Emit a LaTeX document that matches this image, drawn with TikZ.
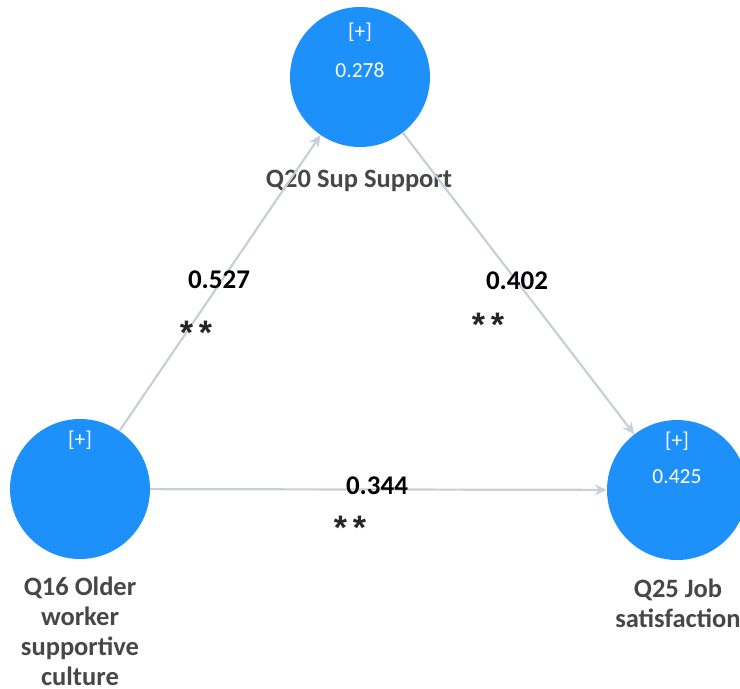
\documentclass[tikz,border=0pt]{standalone}
\usepackage{fontspec}
\setmainfont{Carlito}
\newfontfamily\starfont{Liberation Sans}
\usetikzlibrary{arrows.meta}
\definecolor{circblue}{HTML}{1E90FA}
\definecolor{linegray}{HTML}{C9CED8}
\definecolor{labgray}{HTML}{474747}
\tikzset{
  lv/.style={circle,fill=circblue,minimum size=140pt,inner sep=0pt},
  inner/.style={text=white,font=\fontsize{21.5}{24}\selectfont},
  lab/.style={text=labgray,font=\bfseries\fontsize{26.5}{30}\selectfont,align=center,inner sep=0pt},
  coef/.style={text=black,font=\bfseries\fontsize{27}{30}\selectfont},
  stars/.style={text=black!85,font=\starfont\bfseries\fontsize{34}{40}\selectfont},
  path/.style={draw=linegray,line width=2.2pt,-{Stealth[length=12pt,width=11pt]}}
}
\newcommand{\twostars}{*\hspace{6pt}*}
\begin{document}
\begin{tikzpicture}[x=1pt,y=-1pt]
\useasboundingbox (0,0) rectangle (740,689);
\node[lv] (sup) at (360,77) {};
\node[lv] (old) at (80,489) {};
\node[lv] (job) at (677,490) {};
\node[inner] (supp) at (360,32) {[+]};
\node[inner] (supv) at (360,70) {0.278};
\node[inner] (oldp) at (80,440) {[+]};
\node[inner] (jobp) at (677,441) {[+]};
\node[inner] (jobv) at (677,477) {0.425};
\node[lab] (supl) at (359,181) {Q20 Sup Support};
\node[lab,anchor=north] (oldl) at (80,577) {Q16 Older\\worker\\supportive\\culture};
\node[lab,anchor=north] (jobl) at (678,579) {Q25 Job\\satisfaction};
\draw[path] (old) -- (sup);
\draw[path] (sup) -- (job);
\draw[path] (old) -- (job);
\node[coef] (c1) at (219,280) {0.527};
\node[stars] (s1) at (196,333) {\twostars};
\node[coef] (c2) at (517,281) {0.402};
\node[stars] (s2) at (488,325) {\twostars};
\node[coef] (c3) at (377,486) {0.344};
\node[stars] (s3) at (350,528) {\twostars};
\end{tikzpicture}
\end{document}
